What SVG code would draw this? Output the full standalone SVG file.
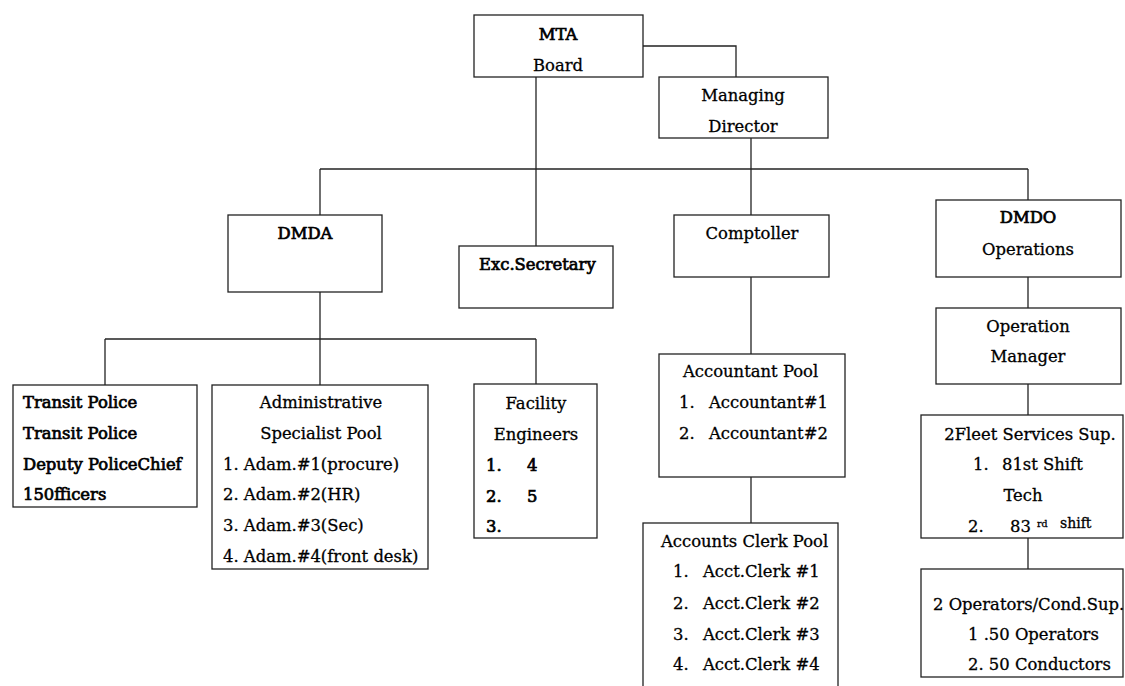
<svg xmlns="http://www.w3.org/2000/svg" width="1125" height="686" viewBox="0 0 1125 686">
<style>
rect{fill:#fff;stroke:#222;stroke-width:1.3}
.c line,.c polyline{stroke:#222;stroke-width:1.3;fill:none}
text{font-family:"DejaVu Serif","Liberation Serif",serif;font-size:16.4px;fill:#000;stroke:#000;stroke-width:0.3}
.m{text-anchor:middle}
.b{stroke-width:0.7}
</style>
<rect x="0" y="0" width="1125" height="686" style="fill:#fff;stroke:none"/>
<g class="c" id="connectors">
<polyline points="643,46 736,46 736,77"/>
<line x1="536" y1="77" x2="536" y2="246"/>
<line x1="751" y1="138" x2="751" y2="215"/>
<line x1="320" y1="169" x2="1028" y2="169"/>
<line x1="320" y1="169" x2="320" y2="215"/>
<line x1="1028" y1="169" x2="1028" y2="200"/>
<line x1="320" y1="292" x2="320" y2="385"/>
<line x1="105" y1="339" x2="536" y2="339"/>
<line x1="105" y1="339" x2="105" y2="385"/>
<line x1="536" y1="339" x2="536" y2="384"/>
<line x1="751" y1="277" x2="751" y2="354"/>
<line x1="751" y1="477" x2="751" y2="523"/>
<line x1="1028" y1="277" x2="1028" y2="308"/>
<line x1="1028" y1="384" x2="1028" y2="415"/>
<line x1="1028" y1="538" x2="1028" y2="569"/>
</g>
<g id="mta"><rect x="474" y="15" width="169" height="62"/>
<text class="m b" x="558" y="40">MTA</text><text class="m" x="558" y="71">Board</text></g>
<g id="md"><rect x="659" y="77" width="169" height="61"/>
<text class="m" x="743" y="101">Managing</text><text class="m" x="743" y="132">Director</text></g>
<g id="dmda"><rect x="228" y="215" width="154" height="77"/>
<text class="m b" x="305" y="239">DMDA</text></g>
<g id="excsec"><rect x="459" y="246" width="154" height="62"/>
<text class="b" x="479" y="270">Exc.Secretary</text></g>
<g id="comptoller"><rect x="674" y="215" width="155" height="62"/>
<text class="m" x="752" y="239">Comptoller</text></g>
<g id="dmdo"><rect x="936" y="200" width="185" height="77"/>
<text class="m b" x="1028" y="223">DMDO</text><text class="m" x="1028" y="255">Operations</text></g>
<g id="opmgr"><rect x="936" y="308" width="185" height="76"/>
<text class="m" x="1028" y="332">Operation</text><text class="m" x="1028" y="362">Manager</text></g>
<g id="police"><rect x="13" y="385" width="184" height="122"/>
<text class="b" x="23" y="408">Transit Police</text>
<text class="b" x="23" y="439">Transit Police</text>
<text class="b" x="23" y="470">Deputy PoliceChief</text>
<text class="b" x="23" y="500">150fficers</text></g>
<g id="admin"><rect x="212" y="385" width="216" height="184"/>
<text class="m" x="321" y="408">Administrative</text>
<text class="m" x="321" y="439">Specialist Pool</text>
<text x="223" y="470">1. Adam.#1(procure)</text>
<text x="223" y="500">2. Adam.#2(HR)</text>
<text x="223" y="531">3. Adam.#3(Sec)</text>
<text x="223" y="562">4. Adam.#4(front desk)</text></g>
<g id="facility"><rect x="474" y="384" width="123" height="154"/>
<text class="m" x="536" y="409">Facility</text>
<text class="m" x="536" y="440">Engineers</text>
<text class="b" x="486" y="471">1.</text><text class="b" x="527" y="471">4</text>
<text class="b" x="486" y="502">2.</text><text class="b" x="527" y="502">5</text>
<text class="b" x="486" y="532">3.</text></g>
<g id="acctpool"><rect x="659" y="354" width="186" height="123"/>
<text x="683" y="377">Accountant Pool</text>
<text x="679" y="408">1.</text><text x="709" y="408">Accountant#1</text>
<text x="679" y="439">2.</text><text x="709" y="439">Accountant#2</text></g>
<g id="clerkpool"><rect x="643" y="523" width="195" height="170"/>
<text x="661" y="547">Accounts Clerk Pool</text>
<text x="673" y="577">1.</text><text x="703" y="577">Acct.Clerk #1</text>
<text x="673" y="609">2.</text><text x="703" y="609">Acct.Clerk #2</text>
<text x="673" y="640">3.</text><text x="703" y="640">Acct.Clerk #3</text>
<text x="673" y="670">4.</text><text x="703" y="670">Acct.Clerk #4</text></g>
<g id="fleet"><rect x="921" y="415" width="202" height="123"/>
<text class="m" x="1030" y="440">2Fleet Services Sup.</text>
<text x="973" y="470">1.</text><text x="1002" y="470">81st Shift</text>
<text class="m" x="1023" y="501">Tech</text>
<text x="968" y="532">2.</text><text x="1010" y="532">83</text>
<text x="1037" y="527" style="font-size:9.5px">rd</text>
<text x="1060" y="528" style="font-size:14px">shift</text></g>
<g id="operators"><rect x="921" y="569" width="202" height="108"/>
<text x="933" y="610">2 Operators/Cond.Sup.</text>
<text x="968" y="640">1 .50 Operators</text>
<text x="968" y="670">2. 50 Conductors</text></g>
</svg>
